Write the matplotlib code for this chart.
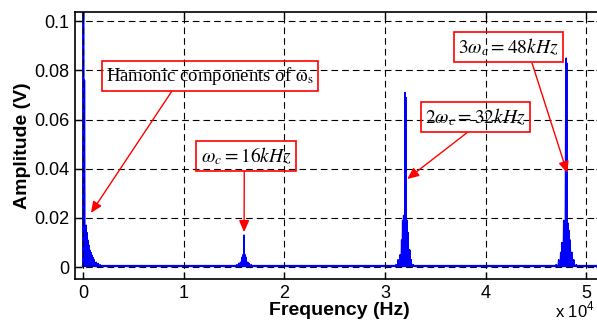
import numpy as np
import matplotlib
matplotlib.use("Agg")
import matplotlib.pyplot as plt

plt.rcParams['font.family'] = ['Liberation Sans', 'DejaVu Sans']
plt.rcParams['mathtext.fontset'] = 'stix'

# spectral lines (Hz, V)
harm_freqs = [50, 150, 250, 320, 400, 480, 560, 650, 750, 850, 950, 1100, 1300, 1500, 1700]
harm_amps = [0.30, 0.076, 0.012, 0.017, 0.014, 0.011, 0.009, 0.007, 0.006, 0.005, 0.004, 0.003, 0.002, 0.0015, 0.001]

c1_center = 16000
c1_offsets = [-900, -700, -500, -350, -200, -100, 0, 100, 200, 350, 500, 700, 900]
c1_amps = [0.0005, 0.001, 0.0015, 0.002, 0.004, 0.005, 0.013, 0.005, 0.004, 0.002, 0.0015, 0.001, 0.0005]

c2_center = 32000
c2_offsets = [-1200, -900, -700, -500, -350, -250, -150, -50, 0, 50, 100, 200, 300, 450, 600, 800, 1100]
c2_amps = [0.0005, 0.001, 0.003, 0.005, 0.011, 0.019, 0.021, 0.016, 0.071, 0.069, 0.024, 0.019, 0.014, 0.007, 0.003, 0.001, 0.0005]

c3_center = 48000
c3_offsets = [-1300, -1000, -750, -550, -400, -250, -150, -50, 0, 50, 150, 250, 400, 550, 750, 1000, 1300]
c3_amps = [0.0005, 0.001, 0.003, 0.006, 0.010, 0.019, 0.015, 0.064, 0.085, 0.083, 0.018, 0.015, 0.011, 0.006, 0.003, 0.001, 0.0005]

noise_freqs = [0, 52000]
noise_amps = [0.0004, 0.0004]

x_ticks = [0, 10000, 20000, 30000, 40000, 50000]
x_labels = ['0', '1', '2', '3', '4', '5']
y_ticks = [0, 0.02, 0.04, 0.06, 0.08, 0.1]
y_labels = ['0', '0.02', '0.04', '0.06', '0.08', '0.1']

# collect all lines
freqs = list(harm_freqs)
amps = list(harm_amps)
for c, offs, a in [(c1_center, c1_offsets, c1_amps), (c2_center, c2_offsets, c2_amps), (c3_center, c3_offsets, c3_amps)]:
    freqs += [c + o for o in offs]
    amps += a
order = np.argsort(freqs)
freqs = np.array(freqs)[order]
amps = np.array(amps)[order]

# spike-shaped spectrum trace
base = noise_amps[0]
sx, sy = [], []
for f, a in zip(freqs, amps):
    sx += [f - 50, f, f + 50]
    sy += [base, a, base]

fig = plt.figure(figsize=(5.97, 3.22), dpi=100)
ax = fig.add_axes([0.1256, 0.1335, 0.885, 0.829])

ax.plot(noise_freqs, noise_amps, color='#0000ff', lw=1.6, zorder=2)
ax.vlines(freqs, 0, amps, color='#0000ff', lw=1.3, zorder=2)
ax.plot(sx, sy, color='#0000ff', lw=1.0, zorder=2)

ax.set_xlim(-795, 51690)
ax.set_ylim(-0.00488, 0.1037)
ax.set_xticks(x_ticks)
ax.set_xticklabels(x_labels)
ax.set_yticks(y_ticks)
ax.set_yticklabels(y_labels)
ax.tick_params(direction='in', length=5, width=1, labelsize=13, top=True, right=True, pad=4)
ax.grid(True, color='black', linestyle=(0, (6, 3.6)), lw=0.8, zorder=3)
ax.set_axisbelow(False)
for s in ax.spines.values():
    s.set_linewidth(1.2)
ax.spines['right'].set_visible(False)

ax.set_xlabel('Frequency (Hz)', fontsize=14, fontweight='bold', labelpad=0)
ax.set_ylabel('Amplitude (V)', fontsize=14, fontweight='bold', labelpad=2)
fig.text(0.93, 0.005, r'x 10$^{\mathregular{4}}$', fontsize=12, ha='left', va='bottom')

box = dict(boxstyle='square,pad=0.22', fc='none', ec='red', lw=1.2)

def note(txt, xy, xytext, rel, size=14):
    ax.annotate(txt, xy=xy, xytext=xytext, textcoords='data', ha='center', va='center',
                fontsize=size, family='Liberation Serif', bbox=box, zorder=4,
                arrowprops=dict(arrowstyle='-|>,head_length=0.5,head_width=0.22', color='red', lw=1,
                                relpos=rel, shrinkA=0, shrinkB=0))

note(r'Hamonic components of $\mathrm{\omega_s}$', (795, 0.0220), (12624, 0.0778), (0.33, 0), 13.5)
note(r'$\omega_c = 16kHz$', (16004, 0.0142), (16203, 0.0451), (0.48, 0))
note(r'$2\omega_c = 32kHz$', (32207, 0.0358), (38966, 0.0610), (0.48, 0))
note(r'$3\omega_c = 48kHz$', (48111, 0.0382), (42247, 0.0894), (0.72, 0))

fig.savefig('out.png', dpi=100)
